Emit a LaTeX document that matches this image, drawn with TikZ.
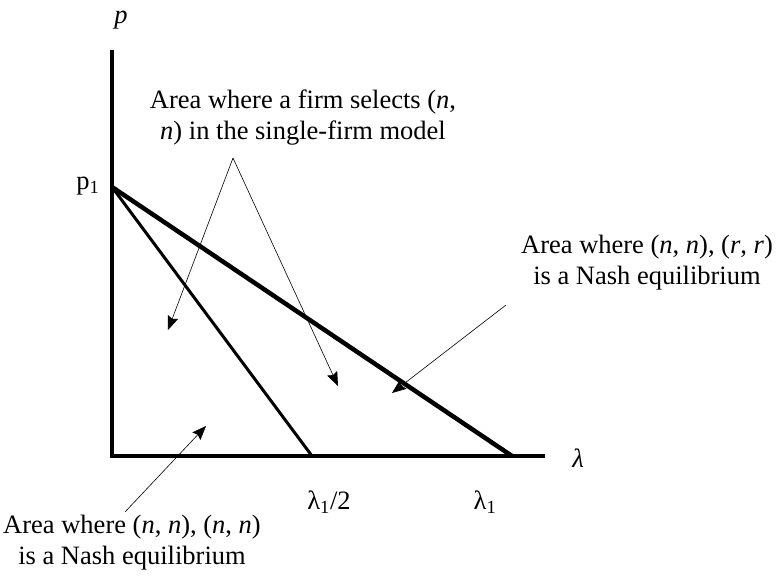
\documentclass[tikz,border=0pt]{standalone}
\usepackage{fontspec}
\setmainfont{Liberation Serif}
\usetikzlibrary{arrows.meta}
\begin{document}
\begin{tikzpicture}[x=1pt,y=-1pt,
  axis/.style={line width=4.5pt},
  bound/.style={line width=3pt},
  pointer/.style={line width=0.6pt,-{Stealth[length=14pt,width=11pt,inset=2pt]}},
  lbl/.style={font=\fontsize{26.5}{31}\selectfont,align=center,inner sep=0pt}]
\useasboundingbox (0,0) rectangle (777,579);
\coordinate (top) at (112,50);
\coordinate (O) at (112,456);
\coordinate (xend) at (545,456);
\coordinate (P1) at (112,187);
\coordinate (L1) at (512,456);
\coordinate (L2) at (312,456);
\draw[axis] (top) -- (O) -- (xend);
\draw[line width=4.5pt] (P1) -- (L1);
\draw[bound] (P1) -- (L2);
\node[lbl] (plab) at (121,20) {\textit{p}};
\node[lbl] (p1lab) at (88,186) {p\textsubscript{1}};
\node[lbl] (lamlab) at (578,458) {\textit{λ}};
\node[lbl] (l2lab) at (329,502) {λ\textsubscript{1}/2};
\node[lbl] (l1lab) at (485,502) {λ\textsubscript{1}};
\node[lbl] (toplab) at (303,118) {Area where a firm selects (\textit{n},\\\textit{n}) in the single-firm model};
\node[lbl] (rightlab) at (647,263) {Area where (\textit{n}, \textit{n}), (\textit{r}, \textit{r})\\is a Nash equilibrium};
\node[lbl] (botlab) at (132,543) {Area where (\textit{n}, \textit{n}), (\textit{n}, \textit{n})\\is a Nash equilibrium};
\coordinate (apex) at (233,158);
\coordinate (a1) at (168,330);
\coordinate (a2) at (338,386);
\coordinate (r0) at (506,305);
\coordinate (a3) at (392,393);
\coordinate (b0) at (125,512);
\coordinate (a4) at (206,426);
\draw[pointer] (apex) -- (a1);
\draw[pointer] (apex) -- (a2);
\draw[pointer] (r0) -- (a3);
\draw[pointer] (b0) -- (a4);
\end{tikzpicture}
\end{document}
